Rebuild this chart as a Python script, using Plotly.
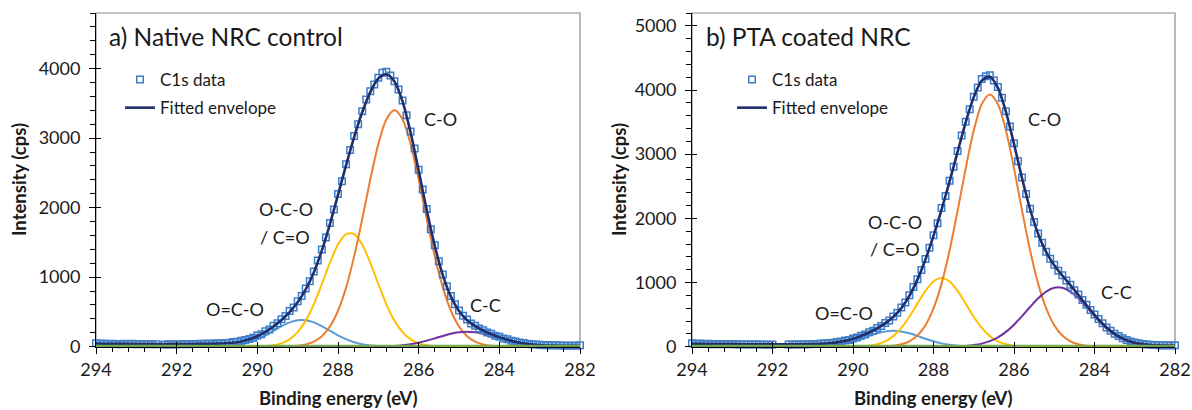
import plotly.graph_objects as go

W, H = 1192, 410
FONT = "Lato"
TXT = "#1a1a1a"

# ---------------- data ----------------
# measured binding energies (eV), 0.1 eV steps
be_data = [294.0, 293.9, 293.8, 293.7, 293.6, 293.5, 293.4, 293.3, 293.2, 293.1,
           293.0, 292.9, 292.8, 292.7, 292.6, 292.5, 292.4, 292.3, 292.2, 292.1,
           292.0, 291.9, 291.8, 291.7, 291.6, 291.5, 291.4, 291.3, 291.2, 291.1,
           291.0, 290.9, 290.8, 290.7, 290.6, 290.5, 290.4, 290.3, 290.2, 290.1,
           290.0, 289.9, 289.8, 289.7, 289.6, 289.5, 289.4, 289.3, 289.2, 289.1,
           289.0, 288.9, 288.8, 288.7, 288.6, 288.5, 288.4, 288.3, 288.2, 288.1,
           288.0, 287.9, 287.8, 287.7, 287.6, 287.5, 287.4, 287.3, 287.2, 287.1,
           287.0, 286.9, 286.8, 286.7, 286.6, 286.5, 286.4, 286.3, 286.2, 286.1,
           286.0, 285.9, 285.8, 285.7, 285.6, 285.5, 285.4, 285.3, 285.2, 285.1,
           285.0, 284.9, 284.8, 284.7, 284.6, 284.5, 284.4, 284.3, 284.2, 284.1,
           284.0, 283.9, 283.8, 283.7, 283.6, 283.5, 283.4, 283.3, 283.2, 283.1,
           283.0, 282.9, 282.8, 282.7, 282.6, 282.5, 282.4, 282.3, 282.2, 282.1,
           282.0]

# C1s data, native NRC control (cps)
c1s_native = [48, 42, 45, 38, 44, 40, 36, 41, 38, 43,
              37, 40, 34, 39, 36, 35, None, 33, 37, 32,
              36, 34, 38, 35, 40, 38, 43, 41, 46, 44,
              50, 48, 55, 58, 66, 72, 84, 95, 112, 130,
              160, 180, 222, 248, 300, 336, 395, 440, 512, 565,
              655, 730, 838, 940, 1080, 1240, 1398, 1570, 1778, 1975,
              2196, 2380, 2625, 2830, 3030, 3200, 3385, 3555, 3675, 3770,
              3870, 3940, 3955, 3900, 3820, 3700, 3540, 3330, 3095, 2850,
              2545, 2260, 1980, 1690, 1460, 1230, 1040, 870, 730, 610,
              520, 445, 390, 335, 300, 262, 238, 205, 186, 158,
              142, 118, 106, 86, 74, 60, 52, 42, 37, 30,
              27, 22, 24, 18, 20, 16, 19, 14, 18, 15,
              20]

# C1s data, PTA coated NRC (cps)
c1s_pta = [52, 45, 50, 42, 47, 40, 44, 38, 43, 39,
           41, 36, 40, 35, 38, 34, 37, 33, 36, 32,
           35, None, None, None, 36, 33, 38, 36, 40, 39,
           43, 44, 49, 50, 58, 62, 72, 80, 95, 106,
           128, 142, 172, 192, 226, 250, 292, 322, 370, 410,
           470, 530, 610, 690, 800, 930, 1050, 1195, 1365, 1540,
           1735, 1925, 2160, 2350, 2585, 2805, 3050, 3290, 3505, 3700,
           3895, 4040, 4170, 4215, 4230, 4150, 4045, 3880, 3670, 3430,
           3170, 2890, 2635, 2380, 2150, 1945, 1765, 1620, 1480, 1370,
           1278, 1185, 1115, 1030, 965, 880, 812, 728, 655, 572,
           502, 430, 365, 300, 250, 200, 165, 130, 105, 82,
           66, 52, 44, 35, 31, 25, 24, 20, 21, 17,
           22]

# fitted curves, 0.2 eV steps
be_fit = [294.0, 293.8, 293.6, 293.4, 293.2, 293.0, 292.8, 292.6, 292.4, 292.2,
          292.0, 291.8, 291.6, 291.4, 291.2, 291.0, 290.8, 290.6, 290.4, 290.2,
          290.0, 289.8, 289.6, 289.4, 289.2, 289.0, 288.8, 288.6, 288.4, 288.2,
          288.0, 287.8, 287.6, 287.4, 287.2, 287.0, 286.8, 286.6, 286.4, 286.2,
          286.0, 285.8, 285.6, 285.4, 285.2, 285.0, 284.8, 284.6, 284.4, 284.2,
          284.0, 283.8, 283.6, 283.4, 283.2, 283.0, 282.8, 282.6, 282.4, 282.2,
          282.0]

env_native = [45, 42, 41, 40, 40, 39, 38, 38, 37, 37,
              37, 38, 39, 41, 42, 44, 49, 58, 76, 106,
              151, 212, 291, 385, 499, 641, 825, 1069, 1385, 1764,
              2184, 2611, 3016, 3372, 3662, 3857, 3919, 3815, 3528, 3080,
              2533, 1965, 1447, 1027, 721, 513, 381, 295, 232, 182,
              138, 102, 70, 48, 33, 23, 18, 15, 13, 12,
              12]
ococ_native = [0, 0, 0, 0, 0, 0, 0, 0, 0, 0,
               0, 0, 0, 1, 2, 4, 9, 18, 36, 65,
               108, 164, 230, 296, 350, 381, 381, 350, 296, 230,
               164, 108, 65, 36, 18, 9, 4, 2, 1, 0,
               0, 0, 0, 0, 0, 0, 0, 0, 0, 0,
               0, 0, 0, 0, 0, 0, 0, 0, 0, 0,
               0]
occo_native = [0, 0, 0, 0, 0, 0, 0, 0, 0, 0,
               0, 0, 0, 0, 0, 0, 0, 0, 0, 1,
               3, 8, 20, 48, 105, 209, 375, 610, 902, 1209,
               1469, 1620, 1620, 1469, 1209, 902, 610, 375, 209, 105,
               48, 20, 8, 3, 1, 0, 0, 0, 0, 0,
               0, 0, 0, 0, 0, 0, 0, 0, 0, 0,
               0]
co_native = [0, 0, 0, 0, 0, 0, 0, 0, 0, 0,
             0, 0, 0, 0, 0, 0, 0, 0, 0, 0,
             0, 0, 0, 2, 5, 13, 32, 73, 151, 290,
             517, 850, 1299, 1836, 2404, 2914, 3271, 3400, 3271, 2914,
             2404, 1836, 1299, 850, 517, 290, 151, 73, 32, 13,
             5, 2, 0, 0, 0, 0, 0, 0, 0, 0,
             0]
cc_native = [0, 0, 0, 0, 0, 0, 0, 0, 0, 0,
             0, 0, 0, 0, 0, 0, 0, 0, 0, 0,
             0, 0, 0, 0, 0, 0, 0, 0, 0, 0,
             0, 0, 0, 0, 1, 3, 6, 11, 21, 36,
             58, 87, 120, 155, 186, 207, 215, 207, 186, 155,
             120, 87, 58, 36, 21, 11, 6, 3, 1, 0,
             0]

env_pta = [45, 44, 43, 42, 41, 40, 39, 38, 37, 36,
           36, 37, 38, 39, 39, 41, 46, 54, 68, 91,
           124, 167, 221, 286, 364, 463, 601, 793, 1045, 1359,
           1726, 2135, 2576, 3040, 3497, 3889, 4147, 4207, 4034, 3661,
           3160, 2625, 2142, 1757, 1474, 1271, 1109, 959, 807, 649,
           497, 360, 246, 161, 102, 63, 40, 27, 20, 17,
           16]
ococ_pta = [0, 0, 0, 0, 0, 0, 0, 0, 0, 0,
            0, 0, 0, 1, 1, 3, 8, 16, 30, 52,
            84, 124, 168, 209, 238, 248, 238, 209, 168, 124,
            84, 52, 30, 16, 8, 3, 1, 0, 0, 0,
            0, 0, 0, 0, 0, 0, 0, 0, 0, 0,
            0, 0, 0, 0, 0, 0, 0, 0, 0, 0,
            0]
occo_pta = [0, 0, 0, 0, 0, 0, 0, 0, 0, 0,
            0, 0, 0, 0, 0, 0, 0, 0, 0, 1,
            2, 6, 16, 39, 84, 165, 292, 467, 671, 869,
            1015, 1070, 1015, 869, 671, 467, 292, 165, 84, 39,
            16, 6, 2, 1, 0, 0, 0, 0, 0, 0,
            0, 0, 0, 0, 0, 0, 0, 0, 0, 0,
            0]
co_pta = [0, 0, 0, 0, 0, 0, 0, 0, 0, 0,
          0, 0, 0, 0, 0, 0, 0, 0, 0, 0,
          0, 0, 0, 2, 6, 15, 37, 84, 174, 335,
          597, 983, 1501, 2122, 2779, 3368, 3781, 3930, 3781, 3368,
          2779, 2122, 1501, 983, 597, 335, 174, 84, 37, 15,
          6, 2, 0, 0, 0, 0, 0, 0, 0, 0,
          0]
cc_pta = [0, 0, 0, 0, 0, 0, 0, 0, 0, 0,
          0, 0, 0, 0, 0, 0, 0, 0, 0, 0,
          0, 0, 0, 0, 0, 0, 0, 0, 0, 0,
          0, 1, 2, 6, 12, 25, 48, 87, 146, 231,
          343, 476, 619, 754, 859, 918, 918, 859, 754, 619,
          476, 343, 231, 146, 87, 48, 25, 12, 6, 2,
          1]

baseline_be = [294.0, 282.0]
baseline_val = [0, 0]

x_ticks = [294, 292, 290, 288, 286, 284, 282]

# ---------------- styles ----------------
C_DATA = "#3F7DC8"
C_ENV = "#1F2F6B"
C_OCOC = "#5B9BD5"
C_OCCO = "#FFC000"
C_CO = "#ED7D31"
C_CC = "#7030A0"
C_BASE = "#70AD47"


def px(x):
    return x / W


def py(y):
    return 1 - y / H


fig = go.Figure()


def add_panel(xa, ya, xo, yo, leg, counts, env, ococ, occo, co, cc):
    for vals, col in [(ococ, C_OCOC), (occo, C_OCCO), (co, C_CO), (cc, C_CC)]:
        fig.add_trace(go.Scatter(x=be_fit, y=vals, mode="lines", xaxis=xa, yaxis=ya,
                                 line=dict(color=col, width=2, shape="spline", smoothing=0.8),
                                 showlegend=False, hoverinfo="skip"))
    fig.add_trace(go.Scatter(x=baseline_be, y=baseline_val, mode="lines", xaxis=xo, yaxis=yo,
                             line=dict(color=C_BASE, width=4), showlegend=False, hoverinfo="skip"))
    fig.add_trace(go.Scatter(x=be_data, y=counts, mode="markers", xaxis=xa, yaxis=ya,
                             name="C1s data", legend=leg, legendgroup=leg + "d",
                             marker=dict(symbol="square-open", size=6.5, color=C_DATA,
                                         line=dict(width=1.5, color=C_DATA)),
                             cliponaxis=False))
    fig.add_trace(go.Scatter(x=be_fit, y=env, mode="lines", xaxis=xa, yaxis=ya,
                             name="Fitted envelope", legend=leg, legendgroup=leg + "e",
                             line=dict(color=C_ENV, width=2.6, shape="spline", smoothing=0.8)))


add_panel("x", "y", "x3", "y3", "legend", c1s_native, env_native,
          ococ_native, occo_native, co_native, cc_native)
add_panel("x2", "y2", "x4", "y4", "legend2", c1s_pta, env_pta,
          ococ_pta, occo_pta, co_pta, cc_pta)

tickfont = dict(family=FONT, size=18, color=TXT)
ydom = [py(346.7), py(13)]


def xaxis_main(dom):
    return dict(domain=dom, range=[294, 282], tickvals=x_ticks, ticks="outside", ticklen=6,
                tickwidth=1, tickcolor="#000", showline=True, linecolor="#000", linewidth=1,
                showgrid=False, zeroline=False, tickfont=tickfont, ticklabelstandoff=1,
                automargin=False, ticklabeloverflow="allow",
                minor=dict(dtick=0.4, tick0=282, ticks="outside", ticklen=4, tickcolor="#000",
                           tickwidth=1, showgrid=False))


def yaxis_main(ymax):
    return dict(domain=ydom, range=[0, ymax], dtick=1000, tick0=0, ticks="outside", ticklen=6,
                tickwidth=1, tickcolor="#000", showline=True, linecolor="#000", linewidth=1,
                showgrid=False, zeroline=False, tickfont=tickfont, ticklabelstandoff=5,
                automargin=False, ticklabeloverflow="allow",
                minor=dict(dtick=200, tick0=0, ticks="outside", ticklen=5, tickcolor="#000",
                           tickwidth=1, showgrid=False))


def xaxis_over(base, anchor):
    return dict(overlaying=base, anchor=anchor, range=[294, 282], tickvals=x_ticks,
                ticks="inside", ticklen=5, tickcolor="#000", tickwidth=1, automargin=False,
                showticklabels=False, showline=False, showgrid=False, zeroline=False)


def yaxis_over(base, anchor, ymax):
    return dict(overlaying=base, anchor=anchor, range=[0, ymax], dtick=1000, tick0=0,
                ticks="inside", ticklen=5, tickcolor="#000", tickwidth=1, automargin=False,
                showticklabels=False, showline=False, showgrid=False, zeroline=False)


legfont = dict(family=FONT, size=17, color=TXT)

fig.update_layout(
    width=W, height=H, autosize=False,
    margin=dict(l=0, r=0, t=0, b=0, pad=0, autoexpand=False),
    paper_bgcolor="white", plot_bgcolor="white",
    font=dict(family=FONT, color=TXT),
    xaxis=dict(xaxis_main([px(96), px(580)]), anchor="y"),
    yaxis=dict(yaxis_main(4800), anchor="x"),
    xaxis2=dict(xaxis_main([px(692), px(1175)]), anchor="y2"),
    yaxis2=dict(yaxis_main(5200), anchor="x2"),
    xaxis3=xaxis_over("x", "y3"),
    yaxis3=yaxis_over("y", "x3", 4800),
    xaxis4=xaxis_over("x2", "y4"),
    yaxis4=yaxis_over("y2", "x4", 5200),
    legend=dict(x=px(120), y=py(62), xanchor="left", yanchor="top", font=legfont,
                bgcolor="rgba(0,0,0,0)", tracegroupgap=3, itemwidth=30),
    legend2=dict(x=px(732), y=py(62), xanchor="left", yanchor="top", font=legfont,
                 bgcolor="rgba(0,0,0,0)", tracegroupgap=3, itemwidth=30),
    showlegend=True,
)

# plot frames (grey top/right border)
for xr, yr in [("x", "y"), ("x2", "y2")]:
    fig.add_shape(type="rect", xref=xr + " domain", yref=yr + " domain", x0=0, x1=1, y0=0, y1=1,
                  line=dict(color="#8a8a8a", width=1.2), layer="below")

ann = []


def label(text, x, y, size=18, bold=False, angle=0, xanchor="center"):
    t = "<b>" + text + "</b>" if bold else text
    ann.append(dict(text=t, x=px(x), y=py(y), xref="paper", yref="paper", showarrow=False,
                    xanchor=xanchor, yanchor="middle", textangle=angle,
                    font=dict(family=FONT, size=size, color=TXT)))


# panel titles
label("a) Native NRC control", 107, 37, size=24.5, xanchor="left")
label("b) PTA coated NRC", 704, 37, size=24.5, xanchor="left")
# peak labels, panel a
label("C-O", 440, 119)
label("O-C-O", 286, 209)
label("/ C=O", 285, 237)
label("O=C-O", 235, 309)
label("C-C", 485, 305)
# peak labels, panel b
label("C-O", 1044, 119)
label("O-C-O", 895, 222)
label("/ C=O", 895, 249)
label("O=C-O", 844, 313)
label("C-C", 1116, 292)
# axis titles
label("Intensity (cps)", 19, 180, size=18.5, bold=True, angle=-90)
label("Intensity (cps)", 619, 180, size=18.5, bold=True, angle=-90)
label("Binding energy (eV)", 338, 398, size=18.5, bold=True)
label("Binding energy (eV)", 934, 398, size=18.5, bold=True)

fig.update_layout(annotations=ann)

fig.write_html("out.html")
